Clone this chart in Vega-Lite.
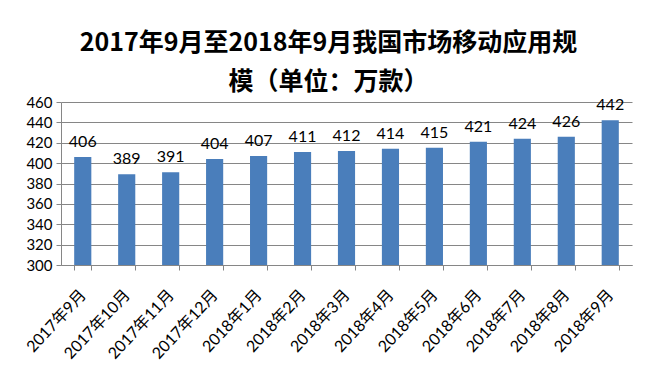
{
  "$schema": "https://vega.github.io/schema/vega-lite/v6.json",
  "autosize": {"type": "none"},
  "width": 571,
  "height": 163,
  "padding": {"left": 61, "top": 102, "right": 24, "bottom": 110},
  "background": "white",
  "title": {
    "text": ["2017年9月至2018年9月我国市场移动应用规", "模（单位：万款）"],
    "font": "Noto Sans CJK SC",
    "fontSize": 25,
    "fontWeight": "bold",
    "color": "#000000",
    "lineHeight": 39,
    "anchor": "middle",
    "dx": -18,
    "offset": 0
  },
  "data": {
    "values": [
      {"month": "2017年9月", "value": 406},
      {"month": "2017年10月", "value": 389},
      {"month": "2017年11月", "value": 391},
      {"month": "2017年12月", "value": 404},
      {"month": "2018年1月", "value": 407},
      {"month": "2018年2月", "value": 411},
      {"month": "2018年3月", "value": 412},
      {"month": "2018年4月", "value": 414},
      {"month": "2018年5月", "value": 415},
      {"month": "2018年6月", "value": 421},
      {"month": "2018年7月", "value": 424},
      {"month": "2018年8月", "value": 426},
      {"month": "2018年9月", "value": 442}
    ]
  },
  "encoding": {
    "x": {
      "field": "month",
      "type": "nominal",
      "sort": null,
      "scale": {"paddingInner": 0.61, "paddingOuter": 0.3},
      "axis": {
        "title": null,
        "labelAngle": -47,
        "labelAlign": "right",
        "labelBaseline": "middle",
        "labelFont": "Lato, Noto Sans CJK SC",
        "labelFontSize": 16,
        "labelColor": "#000000",
        "labelPadding": 22,
        "tickBand": "extent",
        "tickSize": 5,
        "tickColor": "#868686",
        "domainColor": "#868686",
        "grid": false
      }
    },
    "y": {
      "field": "value",
      "type": "quantitative",
      "scale": {"domain": [300, 460], "nice": false, "zero": false},
      "axis": {
        "title": null,
        "values": [300, 320, 340, 360, 380, 400, 420, 440, 460],
        "labelFont": "Lato",
        "labelFontSize": 15,
        "labelColor": "#000000",
        "labelPadding": 4,
        "tickSize": 5,
        "tickColor": "#868686",
        "domainColor": "#868686",
        "gridColor": "#868686",
        "gridWidth": 1
      }
    }
  },
  "layer": [
    {
      "mark": {"type": "bar", "color": "#4A7EBB", "clip": true}
    },
    {
      "mark": {"type": "text", "font": "Lato", "fontSize": 16, "color": "#000000", "baseline": "middle", "dy": -15},
      "encoding": {"text": {"field": "value", "type": "quantitative"}}
    }
  ],
  "config": {"view": {"stroke": null}}
}
